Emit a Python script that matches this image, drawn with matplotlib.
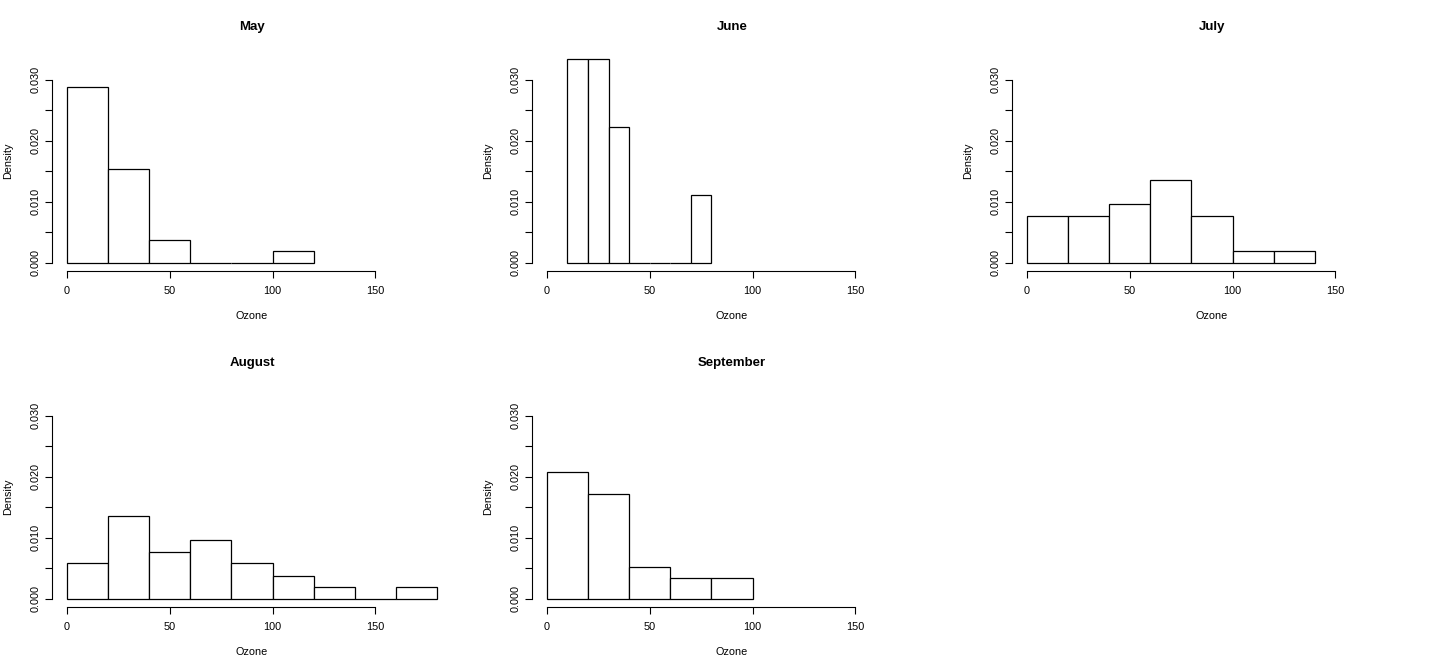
import matplotlib
matplotlib.use("Agg")
import matplotlib.pyplot as plt
import numpy as np
from matplotlib.ticker import FixedLocator, FixedFormatter

plt.rcParams['font.family'] = ['Liberation Sans', 'DejaVu Sans']

months = ["May", "June", "July", "August", "September"]

may_edges = [0, 20, 40, 60, 80, 100, 120]
may_density = [0.0288, 0.0154, 0.0038, 0.0, 0.0, 0.0019]

june_edges = [10, 20, 30, 40, 50, 60, 70, 80]
june_density = [0.0333, 0.0333, 0.0222, 0.0, 0.0, 0.0, 0.0111]

july_edges = [0, 20, 40, 60, 80, 100, 120, 140]
july_density = [0.0077, 0.0077, 0.0096, 0.0135, 0.0077, 0.0019, 0.0019]

aug_edges = [0, 20, 40, 60, 80, 100, 120, 140, 160, 180]
aug_density = [0.0058, 0.0135, 0.0077, 0.0096, 0.0058, 0.0038, 0.0019, 0.0, 0.0019]

sep_edges = [0, 20, 40, 60, 80, 100]
sep_density = [0.0207, 0.0172, 0.0052, 0.0034, 0.0034]

x_ticks = [0, 50, 100, 150]
y_ticks = [0.000, 0.005, 0.010, 0.015, 0.020, 0.025, 0.030]
y_labels = ["0.000", "", "0.010", "", "0.020", "", "0.030"]
x_label = "Ozone"
y_label = "Density"

data = [
    (may_edges, may_density),
    (june_edges, june_density),
    (july_edges, july_density),
    (aug_edges, aug_density),
    (sep_edges, sep_density),
]

W, H = 1440, 672
fig = plt.figure(figsize=(W / 100, H / 100), dpi=100)

ax_w, ax_h = 400, 220
xlim = (0 - 0.04 * 180, 180 + 0.04 * 180)
ylim = (0 - 0.04 * 0.03333, 0.03333 * 1.04)
fs = 7.8

for i, (month, (edges, dens)) in enumerate(zip(months, data)):
    r, c = divmod(i, 3)
    left = 52 + 480 * c
    top = 51 + 336 * r
    ax = fig.add_axes([left / W, 1 - (top + ax_h) / H, ax_w / W, ax_h / H])
    edges = np.asarray(edges, dtype=float)
    widths = np.diff(edges)
    ax.bar(edges[:-1], dens, width=widths, align='edge', facecolor='white',
           edgecolor='black', linewidth=0.9)
    ax.set_xlim(*xlim)
    ax.set_ylim(*ylim)
    for s in ['top', 'right']:
        ax.spines[s].set_visible(False)
    ax.spines['left'].set_bounds(0, 0.03)
    ax.spines['bottom'].set_bounds(0, 150)
    for s in ['left', 'bottom']:
        ax.spines[s].set_linewidth(0.8)
    ax.xaxis.set_major_locator(FixedLocator(x_ticks))
    ax.set_xticklabels([str(t) for t in x_ticks])
    ax.yaxis.set_major_locator(FixedLocator(y_ticks))
    ax.yaxis.set_major_formatter(FixedFormatter(y_labels))
    ax.tick_params(axis='both', direction='out', length=5, width=0.8,
                   labelsize=fs)
    ax.tick_params(axis='y', pad=3.5)
    ax.tick_params(axis='x', pad=5.5)
    for lab in ax.get_yticklabels():
        lab.set_rotation(90)
        lab.set_va('center')
    ax.text(0.5, 1 + 24 / ax_h, month, transform=ax.transAxes, ha='center',
            va='center', fontsize=9.5, fontweight='bold')
    ax.text(0.5, -(316 - 271) / ax_h, x_label, transform=ax.transAxes,
            ha='center', va='center', fontsize=fs)
    ax.text(-(52 - 8) / ax_w, 0.5, y_label, transform=ax.transAxes,
            ha='center', va='center', rotation=90, fontsize=fs)

fig.savefig("out.png", dpi=100, facecolor='white')
